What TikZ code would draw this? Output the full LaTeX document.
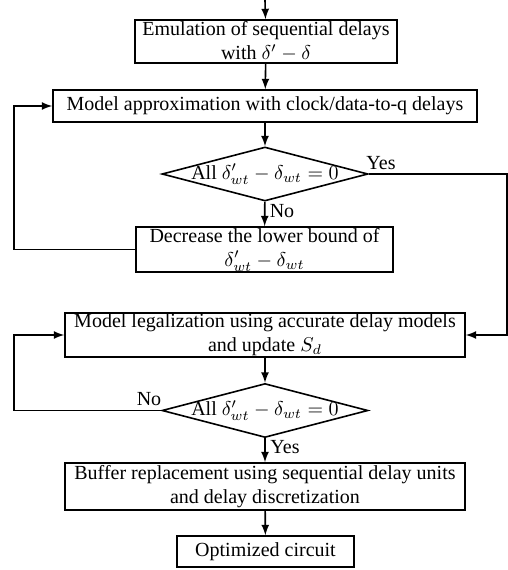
\documentclass[tikz,border=0pt]{standalone}
\usepackage{fontspec}
\setmainfont{Liberation Serif}
\usetikzlibrary{shapes.geometric}
\tikzset{
  blk/.style={draw, line width=0.8pt, align=center, inner sep=0.5pt, font=\fontsize{10}{12}\selectfont},
  dec/.style={draw, diamond, line width=0.8pt, aspect=3.8, inner sep=-2pt, minimum width=103pt, minimum height=27pt, font=\fontsize{10}{11}\selectfont},
  lbl/.style={inner sep=0pt, font=\fontsize{10}{11}\selectfont},
  flow/.style={line width=0.8pt, -latex},
}

\begin{document}
\begin{tikzpicture}[x=0.5pt, y=-0.5pt]
	%%%%% START %%%%%
	\useasboundingbox (0,0) rectangle (508,570);
	\coordinate (in) at (265,0);
	\coordinate (lft) at (14,0);
	\coordinate (rgt) at (507,0);
	
	\node[blk, minimum width=131pt, minimum height=21.5pt] (emul) at (266,41.5) {Emulation of sequential delays\\with $\delta'-\delta$};
	\node[blk, minimum width=212pt, minimum height=16pt] (approx) at (265,106) {Model approximation with clock/data-to-q delays};
	\node[dec] (chk1) at (265,174) {All $\delta'_{wt}-\delta_{wt}=0$};
	\node[blk, minimum width=128.5pt, minimum height=22.5pt] (decr) at (264.5,249.5) {Decrease the lower bound of\\$\delta'_{wt}-\delta_{wt}$};
	
	\node[blk, minimum width=200pt, minimum height=22pt] (legal) at (265,335) {Model legalization using accurate delay models\\and update $S_d$};
	\node[dec] (chk2) at (265,410.5) {All $\delta'_{wt}-\delta_{wt}=0$};
	\node[blk, minimum width=200pt, minimum height=23.5pt] (buf) at (265,486.5) {Buffer replacement using sequential delay units\\and delay discretization};
	\node[blk, minimum width=88.5pt, minimum height=15.5pt] (opt) at (265.5,551.5) {Optimized circuit};
	
	% labels
	\node[lbl] (yes1) at (381,163) {Yes};
	\node[lbl] (no1) at (282,211) {No};
	\node[lbl] (no2) at (149,399) {No};
	\node[lbl] (yes2) at (285,447) {Yes};
	
	% straight flow
	\draw[flow] (in) -- (emul);
	\draw[flow] (emul) -- (approx);
	\draw[flow] (approx) -- (chk1);
	\draw[flow] (chk1) -- (decr);
	\draw[flow] (legal) -- (chk2);
	\draw[flow] (chk2) -- (buf);
	\draw[flow] (buf) -- (opt);
	
	% loops
	\draw[flow] (decr.west) -- (decr.west -| lft) |- (approx.west);
	\draw[flow] (chk1.east) -- (chk1.east -| rgt) |- (legal.east);
	\draw[flow] (chk2.west) -- (chk2.west -| lft) |- (legal.west);
	%%%%% END %%%%%
\end{tikzpicture}
\end{document}
